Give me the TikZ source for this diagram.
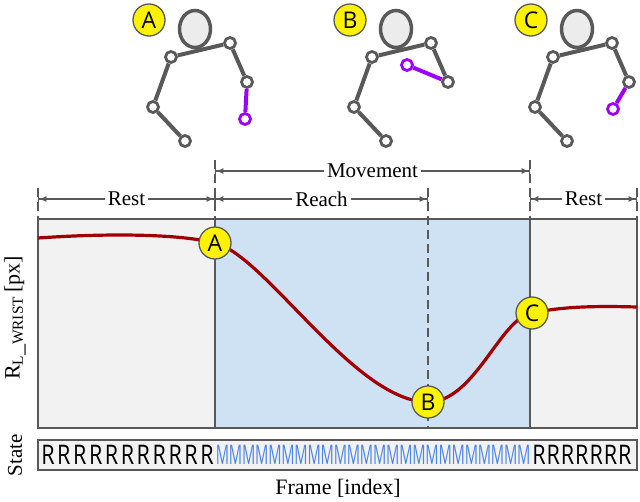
\documentclass[tikz,border=0pt]{standalone}
\usepackage{fontspec}
\setmainfont{Liberation Serif}
\newfontfamily\statefont{Open Sans}
\usetikzlibrary{arrows.meta,positioning,calc,shapes.geometric}

\definecolor{restgray}{HTML}{F2F2F2}
\definecolor{moveblue}{HTML}{CFE2F3}
\definecolor{curvered}{HTML}{A00000}
\definecolor{mlabel}{HTML}{4A86E8}
\definecolor{bonegray}{HTML}{595959}
\definecolor{wristpurple}{HTML}{9B00FF}

% one stick figure: x offset, label, right wrist position
\newcommand{\stickfig}[4]{%
  \begin{scope}[xshift=#1]
    \node[tag] (lab#2) at (149,-20) {#2};
    \node[head] (hd#2) at (195,-29) {};
    \node[joint] (ls#2) at (171,-57) {};
    \node[joint] (rs#2) at (230,-43) {};
    \node[joint] (le#2) at (153,-107) {};
    \node[joint] (lh#2) at (185,-141) {};
    \node[joint] (re#2) at (247,-82) {};
    \node[wjoint] (rw#2) at (#3,-#4) {};
    \draw[bone] (ls#2) -- (rs#2);
    \draw[bone] (ls#2) -- (le#2) -- (lh#2);
    \draw[bone] (rs#2) -- (re#2);
    \draw[wbone] (re#2) -- (rw#2);
  \end{scope}}

\begin{document}
\begin{tikzpicture}[x=1pt, y=1pt,
  tag/.style={circle, draw=bonegray, line width=1.3pt, fill=yellow,
              minimum size=32pt, inner sep=0pt, font=\statefont\fontsize{23}{23}\selectfont},
  head/.style={ellipse, draw=bonegray, line width=3.5pt, fill=gray!15,
               minimum width=31pt, minimum height=37pt, inner sep=0pt},
  joint/.style={circle, draw=bonegray, line width=2.8pt, fill=white,
                minimum size=11pt, inner sep=0pt},
  wjoint/.style={joint, draw=wristpurple},
  bone/.style={draw=bonegray, line width=4pt},
  wbone/.style={draw=wristpurple, line width=4pt},
  dim/.style={{Bar[width=10pt]Latex[length=7pt,width=6pt]}-{Latex[length=7pt,width=6pt]Bar[width=10pt]},
              draw=bonegray, line width=1.3pt},
  dimlab/.style={fill=white, inner sep=3pt, font=\fontsize{21}{21}\selectfont},
  guide/.style={draw=bonegray, line width=1.5pt, dash pattern=on 9pt off 5pt},
  letter/.style={font=\statefont\fontsize{27}{27}\selectfont, inner sep=0pt},
  mletter/.style={font=\statefont\fontsize{23}{23}\selectfont, inner sep=0pt,
                  text=mlabel, xscale=0.64, yscale=1.17}
]
  \useasboundingbox (0,0) rectangle (640,-501);

  % stick figures
  \stickfig{0pt}{A}{245}{119}
  \stickfig{201pt}{B}{206}{65}
  \stickfig{382pt}{C}{231}{109}

  % plot regions
  \fill[restgray] (38,-219) rectangle (215,-428);
  \fill[moveblue] (215,-219) rectangle (530,-428);
  \fill[restgray] (530,-219) rectangle (637,-428);
  \draw[bonegray, line width=1.5pt] (215,-219) -- (215,-428);
  \draw[bonegray, line width=1.5pt] (530,-219) -- (530,-428);
  \draw[bonegray, line width=2pt] (38,-219) rectangle (637,-428);

  % guides
  \draw[guide] (38,-188) -- (38,-219);
  \draw[guide] (215,-160) -- (215,-219);
  \draw[guide] (530,-160) -- (530,-219);
  \draw[guide] (637,-188) -- (637,-219);
  \draw[guide] (428,-188) -- (428,-428);

  % dimension arrows
  \draw[dim] (215,-171) -- node[dimlab] (mov) {Movement} (530,-171);
  \draw[dim] (38,-199) -- node[dimlab] (rst1) {Rest} (215,-199);
  \draw[dim] (215,-199) -- node[dimlab] (rch) {Reach} (428,-199);
  \draw[dim] (530,-199) -- node[dimlab] (rst2) {Rest} (637,-199);

  % wrist curve
  \coordinate (c0) at (38,-238);
  \coordinate (ca) at (215,-243);
  \coordinate (cb) at (428,-402);
  \coordinate (cc) at (532,-313);
  \coordinate (c1) at (637,-307);
  \draw[curvered, line width=3.2pt] (c0) .. controls (110,-233) and (180,-234) .. (ca)
     .. controls (265,-255) and (355,-402) .. (cb)
     .. controls (475,-402) and (500,-318) .. (cc)
     .. controls (565,-306) and (600,-306) .. (c1);
  \node[tag] (ma) at (ca) {A};
  \node[tag] (mb) at (cb) {B};
  \node[tag] (mc) at (cc) {C};

  % axis labels
  \node[rotate=90, font=\fontsize{22}{22}\selectfont] (ylab) at (15,-318) {R$_{\mathrm{L\_WRIST}}$\,[px]};
  \node[rotate=90, font=\fontsize{21}{21}\selectfont] (slab) at (15,-455) {State};
  \node[font=\fontsize{22}{22}\selectfont] (xlab) at (338,-488) {Frame [index]};

  % state strip
  \draw[bonegray, line width=2.5pt, fill=restgray] (38,-440) rectangle (637,-470);
  \foreach \i in {0,...,10} \node[letter, xscale=0.8] (r\i) at (48+15.9*\i,-455) {R};
  \foreach \i in {0,...,23} \node[mletter] (m\i) at (222.5+13.1*\i,-455) {M};
  \foreach \i in {0,...,6} \node[letter, xscale=0.8] (q\i) at (539+14.3*\i,-455) {R};
\end{tikzpicture}
\end{document}
